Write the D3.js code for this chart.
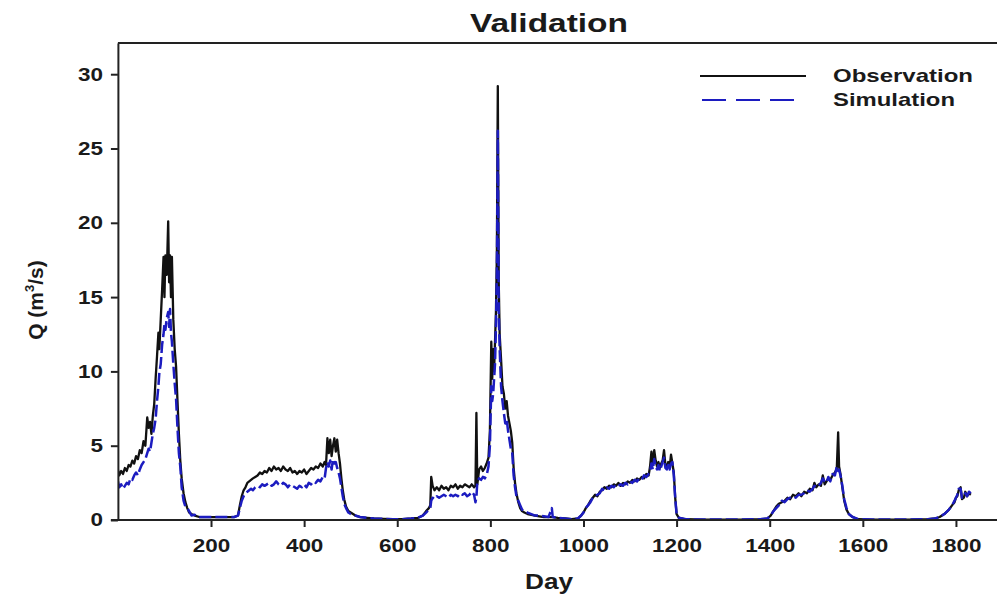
<!DOCTYPE html>
<html>
<head>
<meta charset="utf-8">
<script src="https://cdn.jsdelivr.net/npm/d3@7"></script>
<style>
  html, body { margin: 0; padding: 0; background: #fff; }
  svg { display: block; }
  text { font-family: "Liberation Sans", Arial, sans-serif; font-weight: bold; fill: #1a1a1a; }
</style>
</head>
<body>
<svg id="chart" width="997" height="595"></svg>
<script>
// ---- data ----
const days = [0,3,7,11,15,19,23,27,31,35,39,43,47,51,55,59,63,66,69,72,75,78,81,84,87,89,92,95,98,100,102,105,108,110,112,114,116,119,122,125,128,131,134,137,141,145,149,153,158,165,175,190,210,230,250,258,262,266,270,274,278,282,286,290,295,300,305,310,315,320,325,330,335,340,345,350,355,360,365,370,375,380,385,390,395,400,405,410,415,420,425,430,435,440,444,447,450,453,456,459,462,465,468,471,474,477,480,483,486,490,495,500,510,520,535,550,570,590,610,630,645,655,662,668,671,673,676,680,685,690,695,700,705,710,715,720,725,730,735,740,745,750,755,760,765,768,770,772,776,780,784,788,792,796,799,802,804,806,808,810,812,814,816,818,820,823,826,829,832,835,838,841,844,847,850,853,856,860,864,868,873,880,888,896,905,915,925,932,934,945,960,975,988,995,1000,1005,1010,1015,1020,1025,1030,1035,1040,1045,1050,1055,1060,1065,1070,1075,1080,1085,1090,1095,1100,1105,1110,1115,1120,1125,1130,1135,1140,1143,1146,1149,1152,1155,1158,1161,1164,1167,1170,1173,1176,1179,1182,1185,1188,1191,1194,1197,1200,1205,1220,1260,1300,1340,1380,1395,1402,1408,1414,1420,1426,1432,1438,1444,1450,1456,1462,1468,1474,1480,1486,1492,1496,1500,1505,1510,1514,1518,1522,1526,1530,1535,1540,1544,1547,1549,1552,1556,1560,1565,1570,1578,1590,1620,1660,1700,1740,1755,1765,1775,1785,1792,1797,1800,1803,1806,1810,1813,1817,1820,1824,1828,1832];
const observation = [3.4,3.0,3.3,3.1,3.5,3.3,3.7,3.6,4.0,3.8,4.3,4.1,4.7,4.5,5.3,5.0,6.9,6.2,6.6,5.8,7.0,7.8,9.5,11.0,12.6,11.5,13.5,15.5,17.7,15.0,17.8,16.5,20.1,16.0,17.8,15.0,17.7,13.5,11.5,10.3,8.0,5.8,4.0,2.8,1.8,1.2,0.8,0.5,0.4,0.3,0.2,0.2,0.2,0.2,0.2,0.3,1.0,1.6,2.0,2.2,2.5,2.6,2.7,2.8,2.9,3.0,3.2,3.1,3.3,3.2,3.5,3.3,3.6,3.4,3.5,3.3,3.6,3.4,3.3,3.5,3.2,3.3,3.1,3.3,3.2,3.4,3.1,3.3,3.5,3.4,3.6,3.5,3.8,3.6,3.9,3.7,5.5,4.5,5.4,4.3,5.0,5.5,4.6,5.4,4.5,3.8,2.8,2.0,1.4,0.9,0.6,0.5,0.3,0.2,0.15,0.1,0.08,0.05,0.05,0.1,0.15,0.3,0.6,0.8,1.0,2.9,2.3,2.0,2.2,2.0,2.3,2.1,2.2,2.0,2.3,2.2,2.4,2.1,2.3,2.2,2.4,2.3,2.2,2.4,2.2,2.3,7.2,2.4,3.4,3.6,3.3,3.5,3.8,4.2,6.0,12.0,9.5,11.5,10.0,12.0,14.0,18.0,29.2,16.0,12.5,10.8,9.0,8.5,7.5,8.0,7.0,6.5,6.0,5.2,3.5,2.5,1.8,1.2,0.8,0.6,0.5,0.4,0.35,0.3,0.25,0.2,0.2,0.2,0.2,0.15,0.1,0.05,0.1,0.3,0.5,0.8,1.0,1.3,1.5,1.7,1.6,1.9,2.0,2.2,2.1,2.3,2.2,2.4,2.3,2.5,2.3,2.5,2.4,2.6,2.5,2.7,2.6,2.8,2.7,2.9,2.8,3.1,3.0,3.6,4.6,3.8,4.7,4.0,3.6,3.9,3.5,3.8,4.0,4.7,3.7,3.6,3.9,3.5,4.4,3.8,3.2,1.5,0.4,0.15,0.05,0.03,0.03,0.03,0.05,0.1,0.3,0.6,0.9,1.1,1.2,1.3,1.5,1.4,1.7,1.6,1.8,1.6,1.9,1.8,2.1,2.0,2.5,2.2,2.4,2.3,3.0,2.4,2.6,2.8,2.7,3.0,3.2,3.4,5.9,3.6,3.1,2.2,1.3,0.7,0.4,0.2,0.05,0.03,0.03,0.03,0.05,0.1,0.2,0.4,0.7,1.0,1.2,1.5,1.6,2.0,2.2,1.4,1.5,1.9,1.6,1.8,1.7];
const simulation = [2.6,2.2,2.4,2.1,2.3,2.5,2.4,2.8,2.7,3.0,3.2,3.0,3.4,3.7,3.9,4.1,4.5,4.8,4.6,5.2,5.8,6.2,6.8,8.0,9.0,9.9,10.5,11.8,12.5,13.2,12.8,13.6,14.0,13.0,14.2,12.6,12.0,10.5,9.2,8.1,6.2,4.5,3.6,2.2,1.3,0.9,0.8,0.6,0.3,0.35,0.2,0.2,0.2,0.2,0.2,0.3,0.8,1.3,1.6,1.8,1.9,2.0,2.1,2.0,2.2,2.3,2.2,2.4,2.3,2.4,2.5,2.3,2.4,2.6,2.4,2.3,2.5,2.4,2.2,2.4,2.3,2.2,2.1,2.3,2.2,2.4,2.2,2.5,2.4,2.6,2.5,2.7,2.6,2.9,2.8,3.5,3.9,3.6,4.0,3.4,4.1,3.8,3.9,3.5,3.2,2.8,2.2,1.6,1.1,0.8,0.5,0.4,0.3,0.2,0.15,0.1,0.08,0.05,0.05,0.1,0.15,0.3,0.5,0.7,0.8,1.3,1.5,1.4,1.6,1.5,1.6,1.7,1.6,1.5,1.7,1.6,1.7,1.6,1.8,1.7,1.8,1.6,1.7,1.9,1.7,1.2,1.5,2.6,2.8,2.7,2.9,2.8,3.0,3.6,5.0,9.0,8.0,8.5,9.5,10.5,13.0,16.5,26.2,14.0,11.5,9.0,8.0,7.2,6.5,6.8,6.0,5.4,4.8,4.5,3.0,2.2,1.6,1.3,1.0,0.7,0.6,0.5,0.4,0.3,0.3,0.25,0.2,0.8,0.2,0.15,0.1,0.05,0.1,0.3,0.5,0.8,1.0,1.2,1.5,1.6,1.7,1.8,2.1,2.0,2.2,2.1,2.3,2.2,2.4,2.3,2.4,2.3,2.5,2.4,2.6,2.5,2.7,2.6,2.8,2.7,3.0,2.9,3.1,3.2,3.8,3.4,4.1,3.6,3.4,3.7,3.3,3.6,3.9,4.2,3.5,3.4,3.7,3.4,3.8,3.9,3.0,1.5,0.4,0.15,0.05,0.03,0.03,0.03,0.05,0.1,0.3,0.6,0.8,1.0,1.3,1.2,1.4,1.5,1.6,1.5,1.7,1.7,1.8,2.0,1.9,2.1,2.3,2.2,2.3,2.5,2.8,2.6,2.5,2.9,2.6,3.1,3.0,3.6,3.3,3.4,3.0,2.3,1.4,0.8,0.4,0.2,0.05,0.03,0.03,0.03,0.05,0.1,0.2,0.4,0.7,1.0,1.3,1.5,1.7,2.1,2.1,1.5,1.6,1.8,1.6,1.9,1.8];
const xTicks = [200,400,600,800,1000,1200,1400,1600,1800];
const yTicks = [0,5,10,15,20,25,30];
const seriesNames = ["Observation","Simulation"];

// ---- layout ----
const svg = d3.select("#chart");
const x = d3.scaleLinear().domain([0, 1900]).range([117.9, 1002.5]);
const y = d3.scaleLinear().domain([0, 32.1]).range([520, 43]);

svg.append("defs").append("clipPath").attr("id","clip")
  .append("rect").attr("x",117.9).attr("y",43).attr("width",885).attr("height",477);

const obsData = days.map((d,i)=>({d, v: observation[i]}));
const simData = days.map((d,i)=>({d, v: simulation[i]}));
const line = d3.line().x(p=>x(p.d)).y(p=>y(p.v));

const simColor = "#1c1cc0";
const plot = svg.append("g").attr("clip-path","url(#clip)");
plot.append("path").datum(obsData).attr("d",line)
  .attr("fill","none").attr("stroke","#111").attr("stroke-width",2.3).attr("stroke-linejoin","round");
plot.append("path").datum(simData).attr("d",line)
  .attr("fill","none").attr("stroke",simColor).attr("stroke-width",2.5)
  .attr("stroke-dasharray","12,4").attr("stroke-linejoin","round");

// frame (top)
svg.append("line").attr("x1",117.9).attr("x2",1002).attr("y1",43).attr("y2",43)
  .attr("stroke","#222").attr("stroke-width",2);

// axes
const digitW = 12.5;
const xAxis = svg.append("g").attr("transform","translate(0,520)")
  .call(d3.axisBottom(x).tickValues(xTicks).tickSize(7).tickSizeOuter(0).tickPadding(12).tickFormat(d3.format("d")));
const yAxis = svg.append("g").attr("transform","translate(117.9,0)")
  .call(d3.axisLeft(y).tickValues(yTicks).tickSize(7).tickSizeOuter(0).tickPadding(8).tickFormat(d3.format("d")));
[xAxis, yAxis].forEach(g=>{
  g.select(".domain").attr("stroke","#222").attr("stroke-width",2);
  g.selectAll(".tick line").attr("stroke","#222").attr("stroke-width",2);
  g.selectAll(".tick text").attr("font-size",18.5).attr("font-family",null)
    .attr("fill","#1a1a1a")
    .attr("textLength", function(){ return this.textContent.length*digitW; })
    .attr("lengthAdjust","spacingAndGlyphs");
});
xAxis.select(".domain").attr("d", `M${x(0)-7},0H1002`);

// title
svg.append("text").attr("x",549).attr("y",32).attr("text-anchor","middle")
  .attr("font-size",25).attr("textLength",158).attr("lengthAdjust","spacingAndGlyphs").text("Validation");
// x label
svg.append("text").attr("x",549).attr("y",589).attr("text-anchor","middle")
  .attr("font-size",22).attr("textLength",48).attr("lengthAdjust","spacingAndGlyphs").text("Day");
// y label
const yl = svg.append("text").attr("transform","translate(43,300) rotate(-90)")
  .attr("text-anchor","middle").attr("font-size",21);
yl.append("tspan").text("Q (m");
yl.append("tspan").attr("font-size",13).attr("dy",-9).text("3");
yl.append("tspan").attr("dy",9).text("/s)");

// legend
const leg = svg.append("g");
const legY = [76, 100];
leg.append("line").attr("x1",700).attr("x2",806).attr("y1",legY[0]).attr("y2",legY[0])
  .attr("stroke","#111").attr("stroke-width",2);
leg.append("line").attr("x1",702).attr("x2",796).attr("y1",legY[1]).attr("y2",legY[1])
  .attr("stroke",simColor).attr("stroke-width",2).attr("stroke-dasharray","24,10");
const legW = [140, 122];
seriesNames.forEach((n,i)=>{
  leg.append("text").attr("x",833).attr("y",legY[i]+6).attr("font-size",18.5)
    .attr("textLength",legW[i]).attr("lengthAdjust","spacingAndGlyphs").text(n);
});
</script>
</body>
</html>
